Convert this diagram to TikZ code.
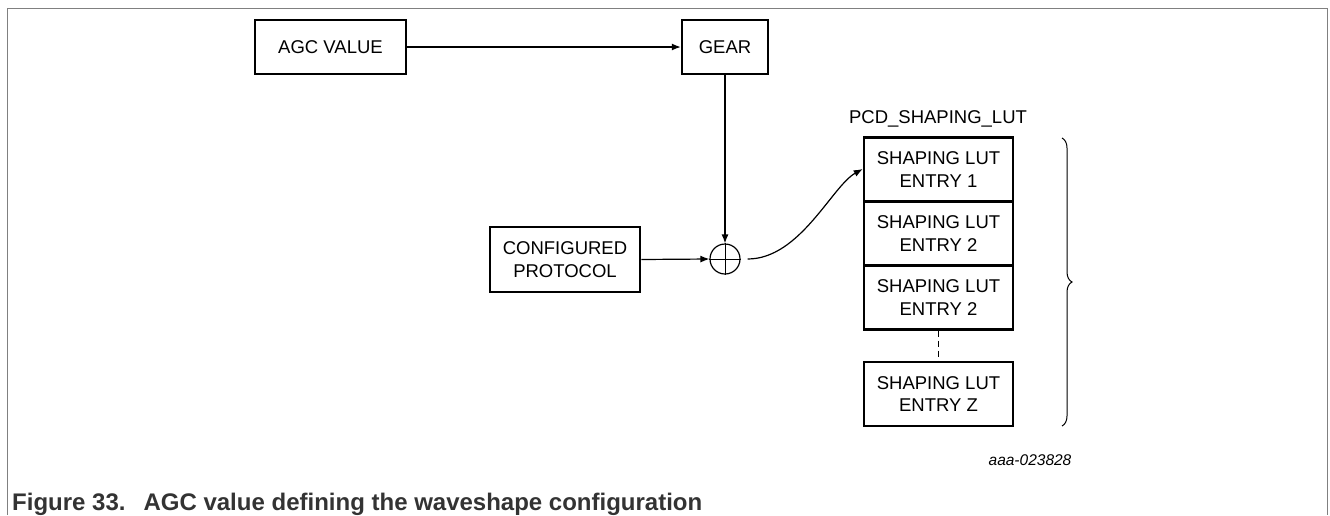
\documentclass[tikz,border=0pt]{standalone}
\usepackage{fontspec}
\setmainfont{Liberation Sans}
\usetikzlibrary{arrows.meta,decorations.pathreplacing}
\definecolor{framegray}{RGB}{128,128,128}
\definecolor{captiongray}{RGB}{51,51,51}
\begin{document}
\begin{tikzpicture}[x=1pt,y=-1pt,
  blk/.style={draw, line width=2.5pt, inner sep=0pt, align=center,
    font=\fontsize{18.5}{22.5}\selectfont},
  conn/.style={line width=1.2pt, -{Latex[length=9pt,width=7pt]}},
  lut/.style={blk, minimum width=149pt, minimum height=64pt}]
\useasboundingbox (0,0) rectangle (1330,515);
% frame
\draw[framegray, line width=1pt] (7,515) -- (7,8.7) -- (1327,8.7) -- (1327,515);
% blocks
\node[blk, minimum width=151pt, minimum height=54pt] (agc) at (330.5,47) {AGC VALUE};
\node[blk, minimum width=86pt, minimum height=54pt] (gear) at (725,47) {GEAR};
\node[blk, minimum width=150pt, minimum height=65pt] (conf) at (565,259.5) {CONFIGURED\\PROTOCOL};
\node[draw, circle, line width=1.2pt, minimum size=30pt, inner sep=0pt] (sum) at (725,259) {};
\draw[line width=1pt] (sum.north) -- (sum.south) (sum.west) -- (sum.east);
% LUT
\node[font=\fontsize{18.5}{22}\selectfont] (pcd) at (938,119) {PCD\_SHAPING\_LUT};
\node[lut] (e1) at (938.5,169.5) {SHAPING LUT\\ENTRY 1};
\node[lut] (e2) at (938.5,233.5) {SHAPING LUT\\ENTRY 2};
\node[lut] (e3) at (938.5,297.5) {SHAPING LUT\\ENTRY 2};
\node[lut] (ez) at (938.5,394) {SHAPING LUT\\ENTRY Z};
\draw[line width=1.2pt, dash pattern=on 6pt off 4pt] (e3.south) -- (ez.north);
% connectors
\draw[conn] (agc.east) -- (gear.west);
\draw[conn] (gear.south) -- (sum.north);
\draw[conn] (conf.east) -- (sum.west);
\coordinate (cs) at ([xshift=7pt]sum.east);
\coordinate (ce) at ([yshift=0.5pt]e1.west);
\draw[conn] (cs) .. controls (800,259) and (832,186) .. (ce);
% brace
\coordinate (bt) at (1062,138);
\coordinate (bb) at (1062,426);
\draw[line width=1pt, decorate, decoration={brace, amplitude=10pt}] (bt) -- (bb);
% id and caption
\node[font=\fontsize{15.5}{18}\itshape] (id) at (1030,460) {aaa-023828};
\node[anchor=base west, inner sep=0pt, text=captiongray, font=\fontsize{24}{28}\bfseries] (cap) at (12,510) {Figure 33.\hspace{18pt}AGC value defining the waveshape configuration};
\end{tikzpicture}
\end{document}
